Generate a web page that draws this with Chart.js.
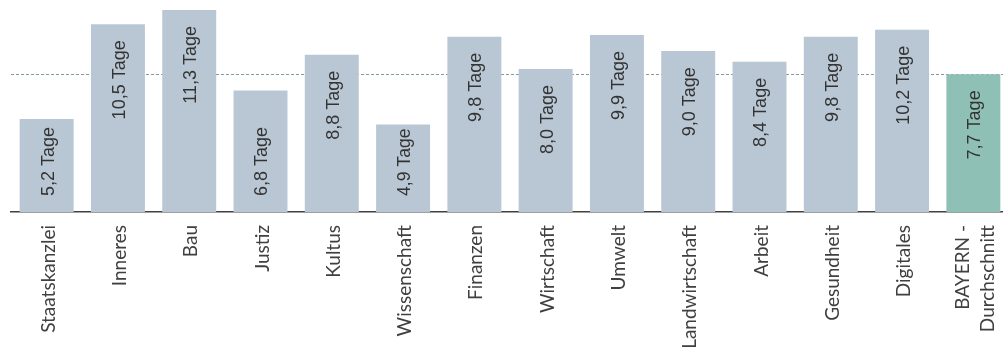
<!DOCTYPE html>
<html lang="de">
<head>
<meta charset="utf-8">
<script src="https://cdn.jsdelivr.net/npm/chart.js@4"></script>
<style>
  html, body { margin: 0; padding: 0; background: #fff; overflow: hidden; }
  #wrap { width: 1009px; height: 354px; }
</style>
</head>
<body>
<div id="wrap"><canvas id="tageChart" width="1009" height="354"></canvas></div>
<script>
const ressorts = [
  "Staatskanzlei", "Inneres", "Bau", "Justiz", "Kultus", "Wissenschaft",
  "Finanzen", "Wirtschaft", "Umwelt", "Landwirtschaft", "Arbeit",
  "Gesundheit", "Digitales", ["BAYERN -", "Durchschnitt"]
];
const tage = [5.2, 10.5, 11.3, 6.8, 8.8, 4.9, 9.8, 8.0, 9.9, 9.0, 8.4, 9.8, 10.2, 7.7];
const durchschnitt = 7.7;

const farbeRessort = "#b9c7d4";
const farbeBayern = "#8ec0b5";

function formatTage(v) {
  return v.toFixed(1).replace(".", ",") + " Tage";
}

// gestrichelte Linie für den Landesdurchschnitt, hinter den Balken
const durchschnittLinie = {
  id: "durchschnittLinie",
  beforeDatasetsDraw(chart) {
    const { ctx, chartArea, scales } = chart;
    const y = Math.round(scales.y.getPixelForValue(durchschnitt)) + 0.5;
    ctx.save();
    ctx.strokeStyle = "#7f9ca2";
    ctx.lineWidth = 1;
    ctx.setLineDash([3, 2]);
    ctx.beginPath();
    ctx.moveTo(chartArea.left, y);
    ctx.lineTo(chartArea.right, y);
    ctx.stroke();
    ctx.restore();
  }
};

// Werte senkrecht in die Balken schreiben
const balkenWerte = {
  id: "balkenWerte",
  afterDatasetsDraw(chart) {
    const { ctx } = chart;
    const meta = chart.getDatasetMeta(0);
    ctx.save();
    ctx.fillStyle = "#333333";
    meta.data.forEach((bar, i) => {
      const text = formatTage(tage[i]);
      const hoehe = bar.base - bar.y;
      let size = 18;
      ctx.font = size + "px 'Liberation Sans', Arial, sans-serif";
      let w = ctx.measureText(text).width;
      if (w > hoehe - 20) {
        size = size * (hoehe - 20) / w;
        ctx.font = size.toFixed(1) + "px 'Liberation Sans', Arial, sans-serif";
        w = ctx.measureText(text).width;
      }
      let oben = bar.y + 16;
      let unten = oben + w;
      if (bar.base - unten < 40) {
        unten = bar.base - 16;
        oben = unten - w;
      }
      ctx.save();
      ctx.translate(bar.x + 2, (oben + unten) / 2);
      ctx.rotate(-Math.PI / 2);
      ctx.textAlign = "center";
      ctx.textBaseline = "middle";
      ctx.fillText(text, 0, 0);
      ctx.restore();
    });
    ctx.restore();
  }
};

// Ressortnamen senkrecht unter der Achse, mehrzeilige Namen um die Balkenmitte
const achsenText = {
  id: "achsenText",
  afterDraw(chart) {
    const { ctx } = chart;
    const x = chart.scales.x;
    const zeilenHoehe = 25;
    ctx.save();
    ctx.fillStyle = "#404040";
    ctx.font = "19px Lato, sans-serif";
    ctx.textAlign = "right";
    ctx.textBaseline = "middle";
    ressorts.forEach((name, i) => {
      const zeilen = Array.isArray(name) ? name : [name];
      const px = x.getPixelForTick(i);
      zeilen.forEach((z, j) => {
        const dx = (j - (zeilen.length - 1) / 2) * zeilenHoehe;
        ctx.save();
        ctx.translate(px + dx + 2, x.top + 13);
        ctx.rotate(-Math.PI / 2);
        ctx.fillText(z, 0, 0);
        ctx.restore();
      });
    });
    ctx.restore();
  }
};

const ctx = document.getElementById("tageChart").getContext("2d");

new Chart(ctx, {
  type: "bar",
  data: {
    labels: ressorts,
    datasets: [
      {
        data: tage,
        backgroundColor: tage.map((_, i) => (i === tage.length - 1 ? farbeBayern : farbeRessort)),
        borderWidth: 0,
        categoryPercentage: 1,
        barPercentage: 0.757
      }
    ]
  },
  options: {
    responsive: false,
    animation: false,
    devicePixelRatio: 1,
    layout: { padding: { left: 11, right: 0, top: 0, bottom: 0 } },
    plugins: {
      legend: { display: false },
      tooltip: { enabled: false }
    },
    scales: {
      x: {
        grid: { display: false },
        border: { display: true, color: "#404040", width: 1.5 },
        ticks: { display: false },
        afterFit(scale) {
          scale.height = 142;
          scale.paddingLeft = 0;
          scale.paddingRight = 0;
        }
      },
      y: {
        display: false,
        min: 0,
        max: 11.86
      }
    }
  },
  plugins: [durchschnittLinie, balkenWerte, achsenText]
});
</script>
</body>
</html>
